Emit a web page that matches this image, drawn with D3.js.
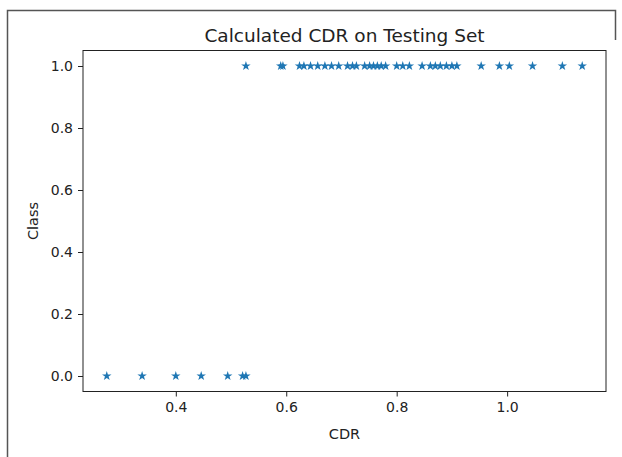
<!DOCTYPE html>
<html>
<head>
<meta charset="utf-8">
<script src="https://cdn.jsdelivr.net/npm/d3@7"></script>
<style>
  body { margin: 0; background: #fff; }
  svg { display: block; font-family: "DejaVu Sans", sans-serif; }
</style>
</head>
<body>
<svg width="622" height="457"></svg>
<script>
// CDR values of the testing set, split by class
var cdrClass0 = [0.275, 0.339, 0.400, 0.446, 0.494, 0.521, 0.527];
var cdrClass1 = [0.527, 0.590, 0.594, 0.624, 0.632, 0.644, 0.657, 0.670, 0.682,
  0.695, 0.711, 0.720, 0.727, 0.742, 0.751, 0.758, 0.765, 0.772, 0.780,
  0.800, 0.811, 0.823, 0.846, 0.861, 0.870, 0.879, 0.890, 0.900, 0.909,
  0.953, 0.986, 1.004, 1.046, 1.100, 1.136];
var xTicks = [0.4, 0.6, 0.8, 1.0];
var yTicks = [0.0, 0.2, 0.4, 0.6, 0.8, 1.0];

var svg = d3.select("svg"),
  margin = {left: 83, right: 16, top: 50.5, bottom: 65.5},
  width = 622 - margin.left - margin.right,
  height = 457 - margin.top - margin.bottom;

var points = cdrClass0.map(function(d) { return {x: d, y: 0}; })
  .concat(cdrClass1.map(function(d) { return {x: d, y: 1}; }));

var xmin = d3.min(points, function(d) { return d.x; }),
  xmax = d3.max(points, function(d) { return d.x; }),
  pad = (xmax - xmin) * 0.05;

var x = d3.scaleLinear().domain([xmin - pad, xmax + pad]).range([0, width]);
var y = d3.scaleLinear().domain([-0.05, 1.05]).range([height, 0]);

// outer frame of the screenshot
svg.append("path")
  .attr("d", "M7.5,457 L7.5,10.5 L615.5,10.5 L615.5,40")
  .attr("fill", "none")
  .attr("stroke", "#555")
  .attr("stroke-width", 1.5);

var g = svg.append("g").attr("transform", "translate(" + margin.left + "," + margin.top + ")");

var xAxis = g.append("g")
  .attr("transform", "translate(0," + height + ")")
  .call(d3.axisBottom(x).tickValues(xTicks).tickFormat(d3.format(".1f")).tickSizeOuter(0).tickSize(5).tickPadding(6));

var yAxis = g.append("g")
  .call(d3.axisLeft(y).tickValues(yTicks).tickFormat(d3.format(".1f")).tickSizeOuter(0).tickSize(5).tickPadding(5));

[xAxis, yAxis].forEach(function(a) {
  a.select(".domain").remove();
  a.selectAll("text").attr("font-size", 14).attr("fill", "#222").attr("font-family", "DejaVu Sans");
  a.selectAll("line").attr("stroke", "#222");
});

g.append("rect")
  .attr("width", width)
  .attr("height", height)
  .attr("fill", "none")
  .attr("stroke", "#222")
  .attr("stroke-width", 1);

var star = d3.symbol().type(d3.symbolStar).size(28);

g.append("g")
  .selectAll("path")
  .data(points)
  .enter()
  .append("path")
  .attr("d", star)
  .attr("transform", function(d) { return "translate(" + x(d.x) + "," + y(d.y) + ")"; })
  .attr("fill", "#1f77b4");

svg.append("text")
  .attr("x", margin.left + width / 2)
  .attr("y", 42)
  .attr("text-anchor", "middle")
  .attr("font-size", 18.5)
  .attr("fill", "#222")
  .text("Calculated CDR on Testing Set");

svg.append("text")
  .attr("x", margin.left + width / 2)
  .attr("y", 439)
  .attr("text-anchor", "middle")
  .attr("font-size", 14.5)
  .attr("fill", "#222")
  .text("CDR");

svg.append("text")
  .attr("transform", "translate(38," + (margin.top + height / 2) + ") rotate(-90)")
  .attr("text-anchor", "middle")
  .attr("font-size", 14.5)
  .attr("fill", "#222")
  .text("Class");
</script>
</body>
</html>
